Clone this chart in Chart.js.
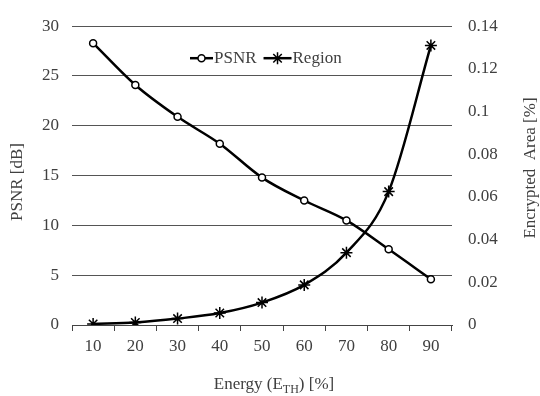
<!DOCTYPE html>
<html>
<head>
<meta charset="utf-8">
<script src="https://cdn.jsdelivr.net/npm/chart.js@4/dist/chart.umd.min.js"></script>
<style>
  html, body { margin: 0; padding: 0; background: #fff; }
  #wrap { width: 540px; height: 396px; }
</style>
</head>
<body>
<div id="wrap"><canvas id="energyChart"></canvas></div>
<script>
const energy = ["10", "20", "30", "40", "50", "60", "70", "80", "90"];
const psnr = [28.3, 24.1, 20.9, 18.2, 14.8, 12.5, 10.5, 7.6, 4.6];
const region = [0.0005, 0.0012, 0.003, 0.0056, 0.0105, 0.0188, 0.0339, 0.0625, 0.131];

const FONT = "'Liberation Serif', 'Times New Roman', serif";
const TEXT = "#404040";

// legend drawn inside the plot, line + marker like the original
const legendInside = {
  id: "legendInside",
  afterDraw(chart) {
    const ctx = chart.ctx;
    const a = chart.chartArea;
    const y = a.top + 32;
    let x = a.left + 118;
    ctx.save();
    ctx.font = "17px " + FONT;
    ctx.textBaseline = "middle";
    const items = [
      { text: "PSNR", style: "circle", r: 3.5, w: 23 },
      { text: "Region", style: "star", r: 6, w: 28 }
    ];
    items.forEach(it => {
      ctx.strokeStyle = "#000";
      ctx.lineWidth = 2.5;
      ctx.beginPath();
      ctx.moveTo(x, y);
      ctx.lineTo(x + it.w, y);
      ctx.stroke();
      ctx.fillStyle = "#fff";
      ctx.lineWidth = 1.5;
      Chart.helpers.drawPoint(ctx, { pointStyle: it.style, radius: it.r, borderWidth: 1.5 }, x + it.w / 2, y);
      ctx.fillStyle = TEXT;
      ctx.fillText(it.text, x + it.w + 1, y);
      x += it.w + 1 + ctx.measureText(it.text).width + 7;
    });
    ctx.restore();
  }
};

// axis titles: x with subscript, both y titles read bottom to top
const axisTitles = {
  id: "axisTitles",
  afterDraw(chart) {
    const ctx = chart.ctx;
    const a = chart.chartArea;
    ctx.save();
    ctx.fillStyle = TEXT;
    ctx.textBaseline = "alphabetic";
    const parts = [["Energy (E", 17, 0], ["TH", 12, 4], [") [%]", 17, 0]];
    let total = 0;
    parts.forEach(p => { ctx.font = p[1] + "px " + FONT; total += ctx.measureText(p[0]).width; });
    let x = (a.left + a.right) / 2 + 12 - total / 2;
    parts.forEach(p => {
      ctx.font = p[1] + "px " + FONT;
      ctx.fillText(p[0], x, 389 + p[2]);
      x += ctx.measureText(p[0]).width;
    });

    ctx.font = "17px " + FONT;
    ctx.textAlign = "center";
    ctx.textBaseline = "middle";
    const vert = (text, cx, cy) => {
      ctx.save();
      ctx.translate(cx, cy);
      ctx.rotate(-Math.PI / 2);
      ctx.fillText(text, 0, 0);
      ctx.restore();
    };
    vert("PSNR [dB]", 18, 182);
    vert("Encrypted  Area [%]", 531, 168);
    ctx.restore();
  }
};

new Chart(document.getElementById("energyChart"), {
  type: "line",
  data: {
    labels: energy,
    datasets: [
      {
        label: "PSNR",
        data: psnr,
        yAxisID: "y",
        borderColor: "#000",
        borderWidth: 2.5,
        cubicInterpolationMode: "monotone",
        pointStyle: "circle",
        pointRadius: 3.5,
        pointBorderWidth: 1.5,
        pointBorderColor: "#000",
        pointBackgroundColor: "#fff"
      },
      {
        label: "Region",
        data: region,
        yAxisID: "y1",
        borderColor: "#000",
        borderWidth: 2.5,
        cubicInterpolationMode: "monotone",
        pointStyle: "star",
        pointRadius: 6,
        pointBorderWidth: 1.5,
        pointBorderColor: "#000",
        pointBackgroundColor: "#fff"
      }
    ]
  },
  options: {
    responsive: true,
    maintainAspectRatio: false,
    animation: false,
    layout: { padding: { top: 15, left: 0, right: 0, bottom: 0 } },
    plugins: { legend: { display: false }, tooltip: { enabled: false } },
    scales: {
      x: {
        offset: true,
        afterFit(s) { s.height = 71; },
        grid: { offset: true, drawOnChartArea: false, color: "#444", tickLength: 6 },
        border: { color: "#444" },
        ticks: { color: TEXT, font: { family: FONT, size: 17 }, padding: 5, maxRotation: 0 }
      },
      y: {
        position: "left",
        min: 0, max: 30,
        afterFit(s) { s.width = 72; },
        ticks: { stepSize: 5, color: TEXT, font: { family: FONT, size: 17 }, padding: 13 },
        grid: { color: "#555", drawTicks: false },
        border: { display: false }
      },
      y1: {
        position: "right",
        min: 0, max: 0.14,
        afterFit(s) { s.width = 88; },
        ticks: { stepSize: 0.02, color: TEXT, font: { family: FONT, size: 17 }, padding: 16,
          callback: v => String(Math.round(v * 100) / 100) },
        grid: { drawOnChartArea: false, drawTicks: false },
        border: { display: false }
      }
    }
  },
  plugins: [legendInside, axisTitles]
});
</script>
</body>
</html>
